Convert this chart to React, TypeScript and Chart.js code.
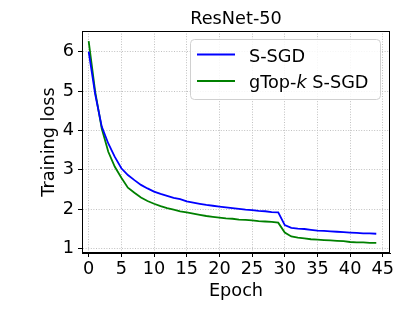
import React, { useEffect, useRef } from "react";
import { Chart, registerables } from "chart.js";

Chart.register(...registerables);

const epochs = Array.from({ length: 45 }, (_, i) => i);
const ssgd = [
  6.0, 4.92, 4.1, 3.67, 3.33, 3.04, 2.87, 2.74, 2.62, 2.53,
  2.45, 2.39, 2.34, 2.29, 2.26, 2.2, 2.17, 2.14, 2.11, 2.09,
  2.07, 2.05, 2.03, 2.01, 1.99, 1.98, 1.96, 1.95, 1.93, 1.92,
  1.6, 1.53, 1.51, 1.5, 1.48, 1.46, 1.45, 1.44, 1.43, 1.42,
  1.41, 1.4, 1.39, 1.39, 1.38,
];
const gtopk = [
  6.27, 4.98, 4.05, 3.46, 3.08, 2.8, 2.55, 2.42, 2.3, 2.21,
  2.14, 2.08, 2.03, 1.99, 1.95, 1.92, 1.89, 1.86, 1.83, 1.81,
  1.79, 1.77, 1.76, 1.74, 1.73, 1.72, 1.7, 1.69, 1.68, 1.66,
  1.41, 1.31, 1.28, 1.26, 1.24, 1.23, 1.22, 1.21, 1.2, 1.19,
  1.17, 1.16, 1.16, 1.15, 1.15,
];
const xTicks = [0, 5, 10, 15, 20, 25, 30, 35, 40, 45];
const yTicks = [1, 2, 3, 4, 5, 6];
const title = "ResNet-50";
const xTitle = "Epoch";
const yTitle = "Training loss";

const FONT = "DejaVu Sans";
const FS = 17.7;

const decor = {
  id: "decor",
  afterDraw(chart: any) {
    const { ctx, chartArea: a } = chart;
    ctx.save();
    // frame
    ctx.strokeStyle = "#000";
    ctx.lineWidth = 1;
    ctx.strokeRect(a.left + 0.5, a.top + 0.5, a.right - a.left - 1, a.bottom - a.top - 1);
    ctx.fillStyle = "#000";
    ctx.font = `${FS}px '${FONT}'`;
    ctx.textAlign = "center";
    ctx.textBaseline = "alphabetic";
    const cx = (a.left + a.right) / 2;
    ctx.fillText(title, cx, 24);
    ctx.fillText(xTitle, cx, 296);
    ctx.save();
    ctx.translate(54, (a.top + a.bottom) / 2);
    ctx.rotate(-Math.PI / 2);
    ctx.fillText(yTitle, 0, 0);
    ctx.restore();
    // legend
    const lx = 190.5, ly = 39.5, lw = 190, lh = 60, r = 4;
    ctx.beginPath();
    ctx.moveTo(lx + r, ly);
    ctx.arcTo(lx + lw, ly, lx + lw, ly + lh, r);
    ctx.arcTo(lx + lw, ly + lh, lx, ly + lh, r);
    ctx.arcTo(lx, ly + lh, lx, ly, r);
    ctx.arcTo(lx, ly, lx + lw, ly, r);
    ctx.closePath();
    ctx.fillStyle = "rgba(255,255,255,0.85)";
    ctx.fill();
    ctx.strokeStyle = "#d0d0d0";
    ctx.lineWidth = 1;
    ctx.stroke();
    const items = [
      { color: "#0000ff", y: 54.5 },
      { color: "#008000", y: 81 },
    ];
    items.forEach((it) => {
      ctx.strokeStyle = it.color;
      ctx.lineWidth = 1.8;
      ctx.beginPath();
      ctx.moveTo(197, it.y);
      ctx.lineTo(235, it.y);
      ctx.stroke();
    });
    ctx.fillStyle = "#000";
    ctx.textAlign = "left";
    ctx.font = `${FS}px '${FONT}'`;
    ctx.fillText("S-SGD", 249, 61.5);
    let x = 249;
    const p1 = "gTop-";
    ctx.fillText(p1, x, 87.5);
    x += ctx.measureText(p1).width;
    ctx.font = `oblique ${FS}px '${FONT}'`;
    ctx.fillText("k", x, 87.5);
    x += ctx.measureText("k").width;
    ctx.font = `${FS}px '${FONT}'`;
    ctx.fillText(" S-SGD", x, 87.5);
    ctx.restore();
  },
};

export default function App() {
  const ref = useRef<HTMLCanvasElement>(null);
  useEffect(() => {
    document.body.style.margin = "0";
    const chart = new Chart(ref.current!, {
      type: "line",
      data: {
        labels: epochs,
        datasets: [
          {
            label: "S-SGD",
            data: epochs.map((e, i) => ({ x: e, y: ssgd[i] })),
            borderColor: "#0000ff",
            borderWidth: 1.8,
            pointRadius: 0,
            tension: 0,
          },
          {
            label: "gTop-k S-SGD",
            data: epochs.map((e, i) => ({ x: e, y: gtopk[i] })),
            borderColor: "#008000",
            borderWidth: 1.8,
            pointRadius: 0,
            tension: 0,
          },
        ],
      },
      options: {
        animation: false,
        responsive: true,
        maintainAspectRatio: false,
        layout: { padding: { top: 31, right: 17, left: 0, bottom: 0 } },
        plugins: { legend: { display: false }, tooltip: { enabled: false }, title: { display: false } },
        scales: {
          x: {
            type: "linear",
            min: -1.02,
            max: 46.1,
            afterBuildTicks: (s: any) => {
              s.ticks = xTicks.map((v) => ({ value: v }));
            },
            afterFit: (s: any) => {
              s.height = 56;
            },
            ticks: { color: "#000", font: { family: FONT, size: FS }, padding: 2, maxRotation: 0, autoSkip: false },
            grid: { color: "#c0c0c0", lineWidth: 1, tickLength: 4, tickColor: "#000", tickBorderDash: [] },
            border: { display: true, color: "#000", dash: [1, 1.6] },
          },
          y: {
            type: "linear",
            min: 0.891,
            max: 6.525,
            afterBuildTicks: (s: any) => {
              s.ticks = yTicks.map((v) => ({ value: v }));
            },
            afterFit: (s: any) => {
              s.width = 82;
            },
            ticks: { color: "#000", font: { family: FONT, size: FS }, padding: 4 },
            grid: { color: "#c0c0c0", lineWidth: 1, tickLength: 4, tickColor: "#000", tickBorderDash: [] },
            border: { display: true, color: "#000", dash: [1, 1.6] },
          },
        },
      },
      plugins: [decor],
    });
    return () => chart.destroy();
  }, []);
  return (
    <div style={{ width: 407, height: 309, position: "relative" }}>
      <canvas ref={ref} />
    </div>
  );
}
